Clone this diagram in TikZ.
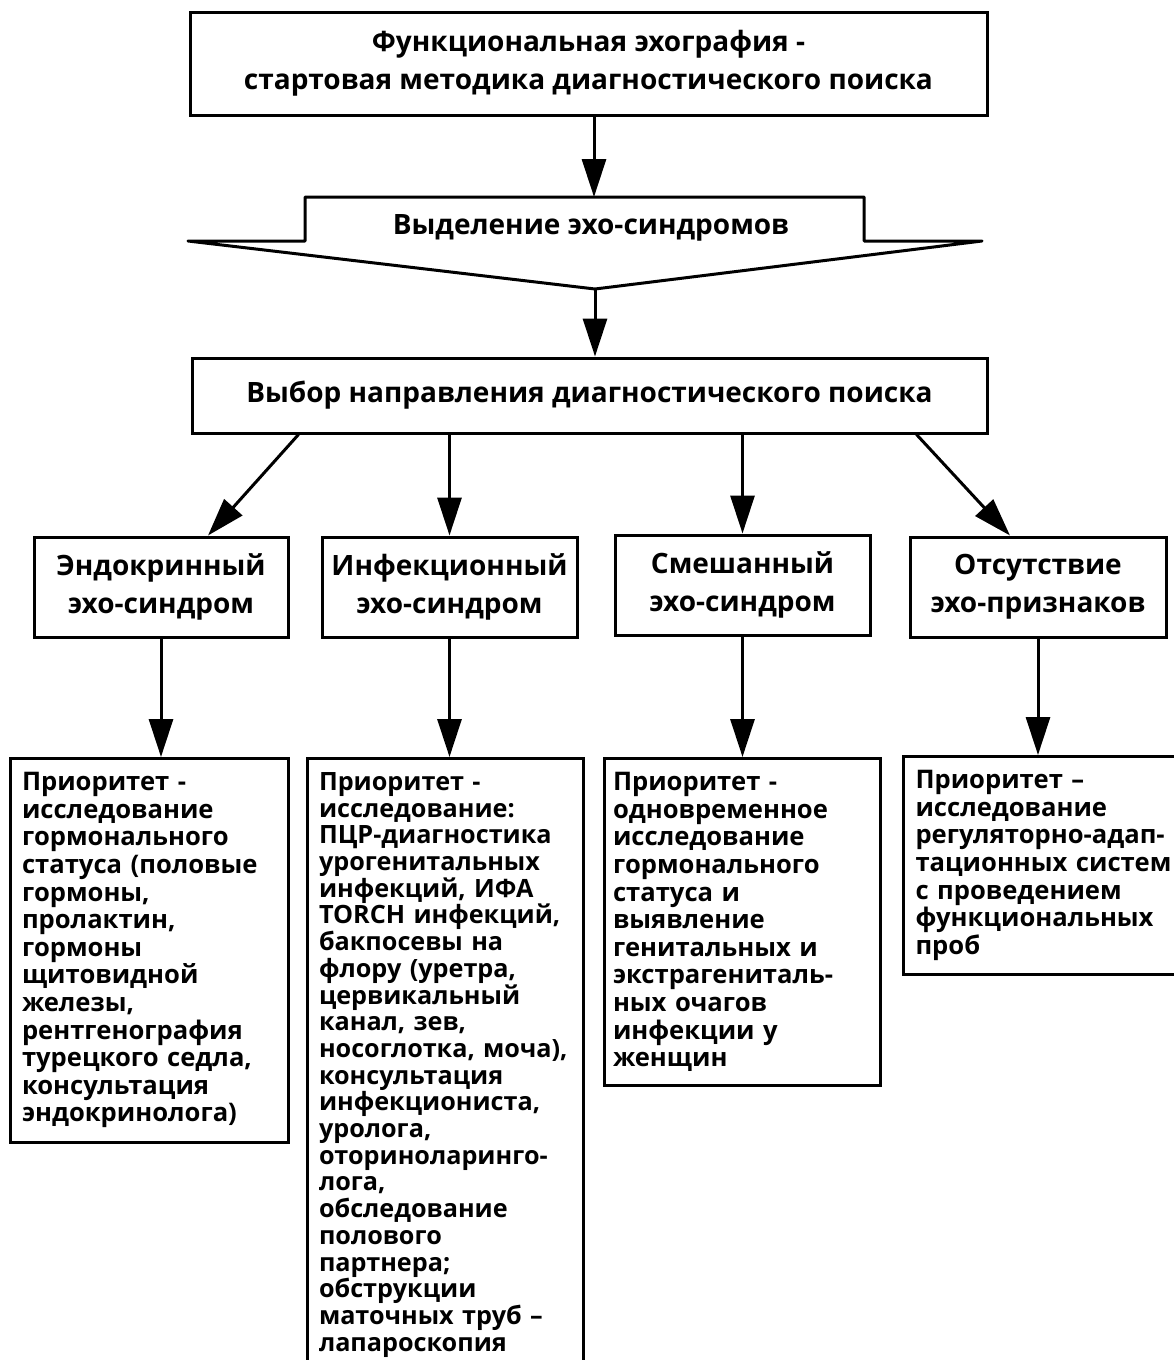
\documentclass[tikz,border=0pt]{standalone}
\usepackage{fontspec}
\setmainfont{Open Sans}
\usetikzlibrary{arrows.meta,positioning,calc}
\tikzset{every node/.style={font=\bfseries\fontsize{14}{19}\selectfont,text=black,align=center},
box/.style={draw,line width=1.5pt,inner sep=0pt},
txt/.style={box,anchor=north,align=left,font=\bfseries\fontsize{12.8}{13.8}\selectfont,inner xsep=6pt,inner ysep=7pt},
arr/.style={-{Triangle[length=19pt,width=12pt]},line width=1.5pt}}

\begin{document}
\begin{tikzpicture}[x=0.5pt,y=0.5pt]
\useasboundingbox (0,0) rectangle (1173,-1360);
\node[box,minimum width=398.5pt,minimum height=51.5pt] (f) at (588.5,-63.5)
{Функциональная эхография -\\стартовая методика диагностического поиска};
% selection arrow shape
\node (s) at (591,-228) {Выделение эхо-синдромов};
\coordinate (sin) at (594,-197);
\coordinate (stip) at (595,-289);
\draw[line width=1.5pt,line join=round] (305,-241) |- (864,-197) -- (864,-241) -- (982,-241) -- (stip) -- (188,-241) -- cycle;
\draw[arr] (f.south -| sin) -- (sin);
\node[box,minimum width=397.5pt,minimum height=37.5pt] (v) at (589.5,-395.5)
{Выбор направления диагностического поиска};
\draw[arr] (stip) -- (stip |- v.north);
% syndromes
\node[box,minimum width=127pt,minimum height=50pt] (e) at (161,-587) {Эндокринный\\эхо-синдром};
\node[box,minimum width=127.5pt,minimum height=50pt] (i) at (449.5,-587) {Инфекционный\\эхо-синдром};
\node[box,minimum width=127.5pt,minimum height=50pt] (m) at (742.5,-585) {Смешанный\\эхо-синдром};
\node[box,minimum width=128pt,minimum height=50pt] (n) at (1038,-587) {Отсутствие\\эхо-признаков};
\draw[arr] ($(v.south west)+(108,0)$) -- ($(e.north)+(47,0)$);
\draw[arr] (v.south -| i.north) -- (i.north);
\draw[arr] (v.south -| m.north) -- (m.north);
\draw[arr] ($(v.south east)+(-72,0)$) -- ($(n.north)+(-28,0)$);
% priorities
\node[txt,text width=127pt] (pe) at (149,-757)
{Приоритет -\\исследование\\гормонального\\статуса (половые\\гормоны,\\пролактин,\\гормоны\\щитовидной\\железы,\\рентгенография\\турецкого седла,\\консультация\\эндокринолога)};
\node[txt,text width=126pt,font=\bfseries\fontsize{12.6}{13.35}\selectfont] (pi) at (445,-757)
{Приоритет -\\исследование:\\ПЦР-диагностика\\урогенитальных\\инфекций, ИФА\\TORCH инфекций,\\бакпосевы на\\флору (уретра,\\цервикальный\\канал, зев,\\носоглотка, моча),\\консультация\\инфекциониста,\\уролога,\\оториноларинго-\\лога,\\обследование\\полового\\партнера;\\обструкции\\маточных труб –\\лапароскопия\\[2pt]};
\node[txt,text width=129pt,inner xsep=4.5pt] (pm) at (742,-757)
{Приоритет -\\одновременное\\исследование\\гормонального\\статуса и\\выявление\\генитальных и\\экстрагениталь-\\ных очагов\\инфекции у\\женщин};
\node[txt,text width=130pt] (pn) at (1045.5,-755)
{Приоритет –\\исследование\\регуляторно-адап-\\тационных систем\\с проведением\\функциональных\\проб};
\draw[arr] (e.south) -- (e.south |- pe.north);
\draw[arr] (i.south) -- (i.south |- pi.north);
\draw[arr] (m.south) -- (m.south |- pm.north);
\draw[arr] (n.south) -- (n.south |- pn.north);
\end{tikzpicture}
\end{document}
